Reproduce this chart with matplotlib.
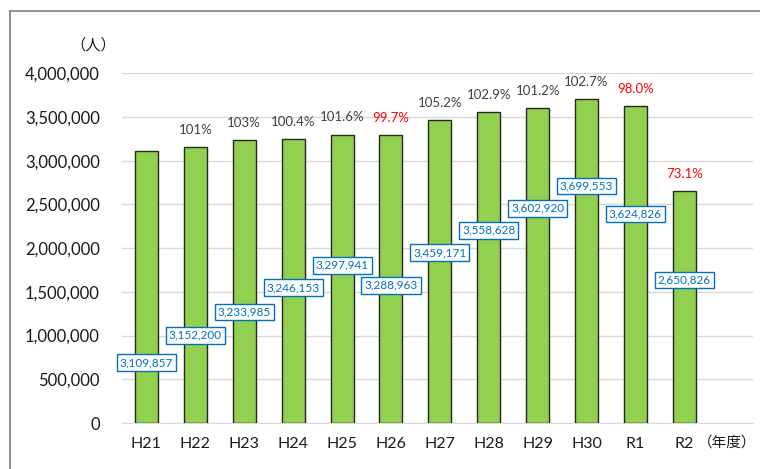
import matplotlib.pyplot as plt
from matplotlib.lines import Line2D

plt.rcParams['font.family'] = ['Lato', 'Noto Sans CJK JP', 'DejaVu Sans']

# データ
years = ["H21", "H22", "H23", "H24", "H25", "H26", "H27", "H28", "H29", "H30", "R1", "R2"]
visitors = [3109857, 3152200, 3233985, 3246153, 3297941, 3288963,
            3459171, 3558628, 3602920, 3699553, 3624826, 2650826]
ratio = ["", "101%", "103%", "100.4%", "101.6%", "99.7%",
         "105.2%", "102.9%", "101.2%", "102.7%", "98.0%", "73.1%"]

# 数値ラベルの高さ（配置用）
label_y = [690000, 1005000, 1270000, 1545000, 1805000, 1575000,
           1945000, 2205000, 2455000, 2710000, 2390000, 1635000]

fig = plt.figure(figsize=(7.6, 4.69), dpi=100)
ax = fig.add_axes([0.1605, 0.098, 0.83, 0.746])

x = range(len(years))
ax.bar(x, visitors, width=0.47, color="#92D050", edgecolor="#262626", linewidth=1, zorder=3)

for i, v in enumerate(visitors):
    ax.text(i, label_y[i], f"{v:,}", ha="center", va="center", fontsize=8.5, color="#0070C0",
            bbox=dict(boxstyle="square,pad=0.25", fc="white", ec="#0070C0", lw=1), zorder=5)
    if ratio[i]:
        c = "#FF0000" if float(ratio[i].rstrip("%")) < 100 else "#404040"
        ax.annotate(ratio[i], (i, v), xytext=(0, 8), textcoords="offset points",
                    ha="center", va="bottom", fontsize=9.5, color=c)

ax.set_ylim(0, 4000000)
ax.set_xlim(-0.5, 12.4)
ax.set_yticks(range(0, 4000001, 500000))
ax.set_yticklabels([f"{t:,}" for t in range(0, 4000001, 500000)], fontsize=12, color="#1a1a1a")
ax.set_xticks(list(x))
ax.set_xticklabels(years, fontsize=11.5, color="#1a1a1a")
ax.tick_params(length=0, pad=10)
ax.tick_params(axis="y", pad=16)
ax.grid(axis="y", color="#d9d9d9", linewidth=1, zorder=0)
for s in ["top", "right", "left"]:
    ax.spines[s].set_visible(False)
ax.spines["bottom"].set_color("#d9d9d9")

fig.text(93 / 760, 1 - 45 / 469, "（人）", ha="center", va="center", fontsize=11, color="#1a1a1a")
fig.text(727 / 760, 1 - 443 / 469, "（年度）", ha="center", va="center", fontsize=10.5, color="#1a1a1a")

# 枠線
fig.add_artist(Line2D([9.5 / 760, 9.5 / 760], [0, 1 - 11.5 / 469], color="#7f7f7f", lw=1.2))
fig.add_artist(Line2D([9.5 / 760, 1], [1 - 11.5 / 469, 1 - 11.5 / 469], color="#7f7f7f", lw=1.2))

fig.savefig("out.png", dpi=100)
